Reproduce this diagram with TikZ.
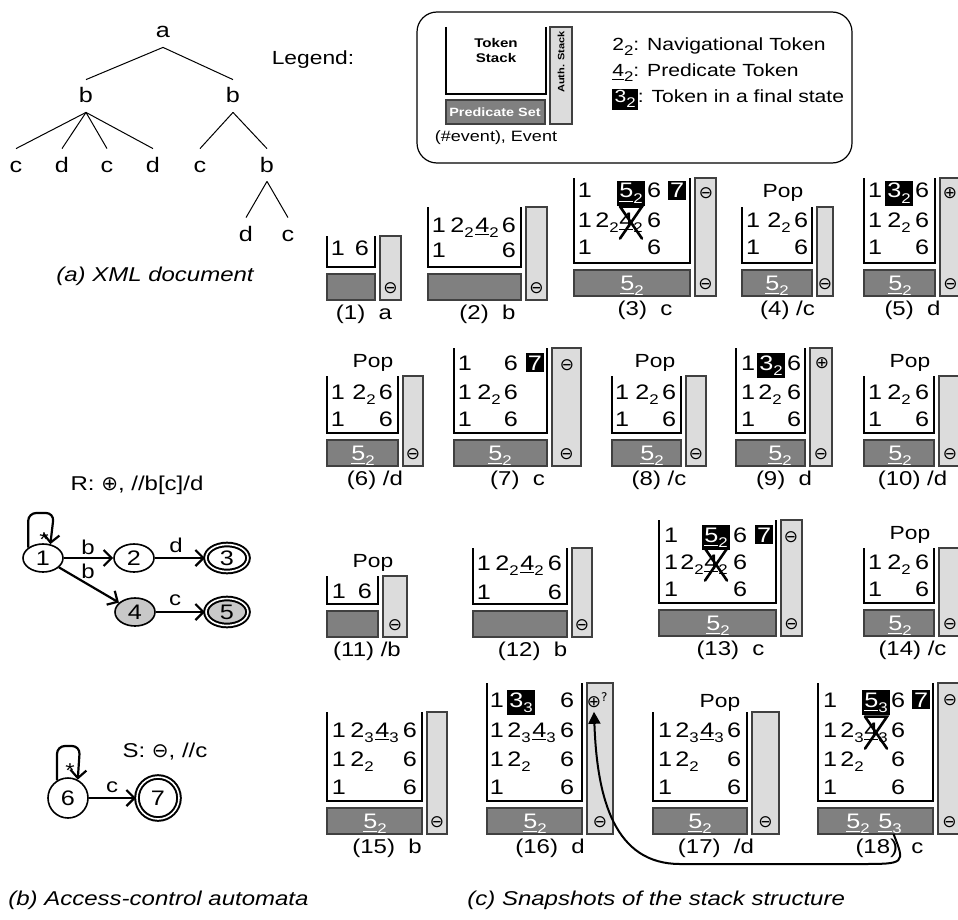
\documentclass[tikz,border=0pt]{standalone}
\usepackage{fontspec}
\setmainfont{Liberation Sans}[FakeStretch=1.2]
\newfontfamily\symfont{DejaVu Sans}
\usetikzlibrary{arrows.meta,shapes.geometric}
\definecolor{predgray}{HTML}{808080}
\definecolor{authgray}{HTML}{DCDCDC}
\definecolor{stategray}{HTML}{C8C8C8}
\newcommand\sub[1]{\raisebox{-0.5ex}{\fontsize{7}{8}\selectfont#1}}
\newcommand\nav[2]{#1\sub{#2}}
\newcommand\prd[2]{\underline{#1}\sub{#2}}
\newcommand\fbx[1]{{\setlength\fboxsep{1.1pt}\colorbox{black}{\textcolor{white}{#1}}}}
\tikzset{
  stk/.style={draw=black, line width=0.6pt},
  pred/.style={draw=black!75, fill=predgray, line width=0.6pt},
  auth/.style={draw=black!75, fill=authgray, line width=0.6pt},
  tok/.style={anchor=base, inner sep=0pt, font=\fontsize{10.5}{12}\selectfont},
  ptok/.style={tok, text=white},
  pop/.style={inner sep=0pt, font=\fontsize{9.5}{11}\selectfont},
  sym/.style={inner sep=0pt, font=\symfont\fontsize{8.5}{10}\selectfont},
  snapcap/.style={inner sep=0pt, font=\fontsize{10}{12}\selectfont},
  capt/.style={inner sep=0pt, font=\itshape\fontsize{10}{12}\selectfont},
  tree/.style={inner xsep=1pt, inner ysep=4.5pt, text height=7pt, text depth=0pt, font=\fontsize{10.5}{12}\selectfont},
  branch/.style={draw=black, line width=0.5pt},
  state/.style={ellipse, draw=black, line width=0.8pt, inner sep=0pt, minimum width=20pt, minimum height=14pt, font=\fontsize{10.5}{12}\selectfont},
  final/.style={state, double, double distance=0.8pt, line width=1pt, minimum width=21pt, minimum height=13.5pt},
  edge/.style={draw=black, line width=1.1pt, -{Straight Barb[length=4pt,width=8pt]}},
  elab/.style={inner sep=0pt, font=\fontsize{10}{12}\selectfont},
  xmark/.style={draw=black, line width=1.3pt, line cap=round},
  lgd/.style={inner sep=0pt, anchor=base west, font=\fontsize{8.8}{11}\selectfont},
  small/.style={inner sep=0pt, align=center, font=\bfseries\fontsize{6.3}{7.5}\selectfont},
  lbox/.style={draw=black, line width=0.6pt, rounded corners=10pt},
  back/.style={draw=black, line width=1pt, -{Triangle[length=6pt,width=6pt]}},
}
\begin{document}
\begin{tikzpicture}[x=0.5pt, y=-0.5pt]
\useasboundingbox[fill=white] (0,0) rectangle (958,920);

% (a) XML document
\node[tree] (ta) at (163,31) {a};
\node[tree] (tb1) at (86,96) {b};
\node[tree] (tb2) at (233,96) {b};
\node[tree] (tc1) at (16,165) {c};
\node[tree] (td1) at (62,165) {d};
\node[tree] (tc2) at (107,165) {c};
\node[tree] (td2) at (153,165) {d};
\node[tree] (tc3) at (200,165) {c};
\node[tree] (tb3) at (267,165) {b};
\node[tree] (td3) at (246,234) {d};
\node[tree] (tc4) at (288,234) {c};
\foreach \p/\c in {ta/tb1,ta/tb2,tb1/tc1,tb1/td1,tb1/tc2,tb1/td2,tb2/tc3,tb2/tb3,tb3/td3,tb3/tc4}
  \draw[branch] (\p.south) -- (\c.north);
\node[capt] (capa) at (155,276) {(a) XML document};

% (b) automata
\node[elab] (rlab) at (137,485) {R: {\symfont ⊕}, //b[c]/d};
\node[state] (s1) at (43,558) {1};
\node[state] (s2) at (134,558) {2};
\node[final] (s3) at (227,558) {3};
\node[state, fill=stategray] (s4) at (135,612) {4};
\node[final, fill=stategray] (s5) at (227,612) {5};
\draw[edge, rounded corners=4pt] (s1.145) |- (54,513) -- (s1.62);
\node[elab] (st1) at (44,540) {*};
\draw[edge] (s1) -- (s2);
\draw[edge] (s2) -- (s3);
\draw[edge] (s1) -- (s4);
\draw[edge] (s4) -- (s5);
\node[elab] (e12) at (88,547) {b};
\node[elab] (e14) at (88,571) {b};
\node[elab] (e23) at (176,545) {d};
\node[elab] (e45) at (175,600) {c};

\node[elab] (slab) at (165,752) {S: {\symfont ⊖}, //c};
\node[state, circle, minimum size=20pt] (s6) at (68,798) {6};
\node[final, circle, minimum size=21pt] (s7) at (158,798) {7};
\draw[edge, rounded corners=4pt] (s6.122) |- (80,746) -- (s6.62);
\node[elab] (st6) at (70,771) {*};
\draw[edge] (s6) -- (s7);
\node[elab] (e67) at (112,787) {c};
\node[capt, anchor=west] (capb) at (8,900) {(b) Access-control automata};

% legend
\node[elab, font=\fontsize{9.5}{11}\selectfont] (lg) at (313,60) {Legend:};
\draw[lbox] (417,12) rectangle (852,163);
\draw[stk] (446,27) -- (446,94) -- (546,94) -- (546,27);
\draw[pred] (446,100) rectangle (545,124);
\draw[auth] (550,27) rectangle (572,124);
\node[small] (lts) at (496,50) {Token\\Stack};
\node[small, text=white, font=\bfseries\fontsize{6}{7}\selectfont] (lps) at (495,112) {Predicate Set};
\node[small, rotate=90, font=\bfseries\fontsize{4.6}{6}\selectfont] (las) at (561,62) {Auth. Stack};
\node[elab, font=\fontsize{7.5}{9}\selectfont] (lev) at (496,138) {(\#event), Event};
\node[lgd] (l1) at (612,51) {\nav22: Navigational Token};
\node[lgd] (l2) at (612,77) {\prd42: Predicate Token};
\node[lgd] (l3) at (612,103) {\fbx{\nav32}: Token in a final state};

% (c) snapshots: frames
\foreach \n/\L/\R/\T/\B/\A/\ev in {
  1/327/375/236/267/401/{(1)\ \ a},  2/428/521/207/267/547/{(2)\ \ b},
  3/574/690/178/263/716/{(3)\ \ c},  4/742/812/207/263/833/{(4) /c},
  5/864/935/178/263/961/{(5)\ \ d},  6/327/398/376/433/423/{(6) /d},
  7/454/547/348/433/581/{(7)\ \ c},  8/612/681/376/433/706/{(8) /c},
  9/736/805/348/433/832/{(9)\ \ d},  10/864/934/376/433/961/{(10) /d},
  11/327/378/576/604/407/{(11) /b},  12/473/567/548/604/592/{(12)\ \ b},
  13/659/776/520/603/802/{(13)\ \ c},14/864/934/548/603/961/{(14) /c},
  15/327/422/712/801/447/{(15)\ \ b},16/487/582/683/801/613/{(16)\ \ d},
  17/653/747/712/801/779/{(17)\ \ /d},18/818/933/683/801/961/{(18)\ \ c}}
{
  \draw[stk] (\L,\T) -- (\L,\B) -- (\R,\B) -- (\R,\T);
  \draw[pred] (\L,\B+7) rectangle (\R,\B+33);
  \draw[auth] (\R+5,\T) rectangle (\A,\B+33);
  \node[sym] (m\n) at ({(\R+5+\A)/2},\B+21) {⊖};
  \node[snapcap] (c\n) at ({(\L+\A)/2},\B+47) {\ev};
  \coordinate (p\n) at ({(\L+\R)/2},\B+33);
}

% tokens
\foreach \x/\y/\t [count=\i] in {338/255/1,362/255/6}
  \node[tok] (k1-\i) at (\x,\y) {\t};
\foreach \x/\y/\t [count=\i] in {439/232/1,462/232/\nav22,487/232/\prd42,509/232/6,439/257/1,509/257/6}
  \node[tok] (k2-\i) at (\x,\y) {\t};
\foreach \x/\y/\t [count=\i] in {585/198/1,631/198/\fbx{\prd52},654/198/6,677/198/\fbx{7},
    585/227/1,607/227/\nav22,654/227/6,585/254/1,654/254/6}
  \node[tok] (k3-\i) at (\x,\y) {\t};
\node[tok] (x3) at (631,227) {\prd42};
\node[ptok] (q3) at (632,290) {\prd52};
\node[sym] (u3) at (706,193) {⊖};

\node[pop] (pop4) at (783,193) {Pop};
\foreach \x/\y/\t [count=\i] in {753/227/1,779/227/\nav22,801/227/6,753/254/1,801/254/6}
  \node[tok] (k4-\i) at (\x,\y) {\t};
\node[ptok] (q4) at (777,290) {\prd52};

\foreach \x/\y/\t [count=\i] in {875/198/1,899/198/\fbx{\nav32},922/198/6,
    875/227/1,899/227/\nav22,922/227/6,875/254/1,922/254/6}
  \node[tok] (k5-\i) at (\x,\y) {\t};
\node[ptok] (q5) at (900,290) {\prd52};
\node[sym] (u5) at (950,193) {⊕};

\node[pop] (pop6) at (373,363) {Pop};
\foreach \x/\y/\t [count=\i] in {338/399/1,364/399/\nav22,386/399/6,338/426/1,386/426/6}
  \node[tok] (k6-\i) at (\x,\y) {\t};
\node[ptok] (q6) at (363,460) {\prd52};

\foreach \x/\y/\t [count=\i] in {465/370/1,511/370/6,535/370/\fbx{7},
    465/399/1,489/399/\nav22,511/399/6,465/426/1,511/426/6}
  \node[tok] (k7-\i) at (\x,\y) {\t};
\node[ptok] (q7) at (500,460) {\prd52};
\node[sym] (u7) at (567,365) {⊖};

\node[pop] (pop8) at (655,363) {Pop};
\foreach \x/\y/\t [count=\i] in {622/399/1,647/399/\nav22,669/399/6,622/426/1,669/426/6}
  \node[tok] (k8-\i) at (\x,\y) {\t};
\node[ptok] (q8) at (652,460) {\prd52};

\foreach \x/\y/\t [count=\i] in {748/370/1,771/370/\fbx{\nav32},794/370/6,
    748/399/1,770/399/\nav22,794/399/6,748/426/1,794/426/6}
  \node[tok] (k9-\i) at (\x,\y) {\t};
\node[ptok] (q9) at (780,460) {\prd52};
\node[sym] (u9) at (822,363) {⊕};

\node[pop] (pop10) at (910,363) {Pop};
\foreach \x/\y/\t [count=\i] in {875/399/1,899/399/\nav22,922/399/6,875/426/1,922/426/6}
  \node[tok] (k10-\i) at (\x,\y) {\t};
\node[ptok] (q10) at (900,460) {\prd52};

\node[pop] (pop11) at (373,563) {Pop};
\foreach \x/\y/\t [count=\i] in {339/598/1,365/598/6}
  \node[tok] (k11-\i) at (\x,\y) {\t};

\foreach \x/\y/\t [count=\i] in {484/570/1,507/570/\nav22,532/570/\prd42,555/570/6,484/599/1,555/599/6}
  \node[tok] (k12-\i) at (\x,\y) {\t};

\foreach \x/\y/\t [count=\i] in {671/542/1,716/542/\fbx{\prd52},740/542/6,764/542/\fbx{7},
    671/569/1,692/569/\nav22,740/569/6,671/596/1,740/596/6}
  \node[tok] (k13-\i) at (\x,\y) {\t};
\node[tok] (x13) at (716,569) {\prd42};
\node[ptok] (q13) at (718,630) {\prd52};
\node[sym] (u13) at (791,537) {⊖};

\node[pop] (pop14) at (910,535) {Pop};
\foreach \x/\y/\t [count=\i] in {875/569/1,899/569/\nav22,922/569/6,875/596/1,922/596/6}
  \node[tok] (k14-\i) at (\x,\y) {\t};
\node[ptok] (q14) at (900,630) {\prd52};

\foreach \x/\y/\t [count=\i] in {339/737/1,362/737/\nav23,387/737/\prd43,410/737/6,
    339/766/1,362/766/\nav22,410/766/6,339/794/1,410/794/6}
  \node[tok] (k15-\i) at (\x,\y) {\t};
\node[ptok] (q15) at (375,828) {\prd52};

\foreach \x/\y/\t [count=\i] in {497/707/1,521/707/\fbx{\nav33},567/707/6,
    497/737/1,519/737/\nav23,544/737/\prd43,567/737/6,
    497/766/1,519/766/\nav22,567/766/6,497/794/1,567/794/6}
  \node[tok] (k16-\i) at (\x,\y) {\t};
\node[ptok] (q16) at (535,828) {\prd52};
\node[sym] (o16) at (594,700) {⊕\rlap{\fontsize{8}{9}\selectfont\textsuperscript{?}}};

\node[pop] (pop17) at (720,703) {Pop};
\foreach \x/\y/\t [count=\i] in {665/737/1,687/737/\nav23,712/737/\prd43,734/737/6,
    665/766/1,687/766/\nav22,734/766/6,665/794/1,734/794/6}
  \node[tok] (k17-\i) at (\x,\y) {\t};
\node[ptok] (q17) at (700,828) {\prd52};

\foreach \x/\y/\t [count=\i] in {830/707/1,876/707/\fbx{\prd53},898/707/6,921/707/\fbx{7},
    830/737/1,852/737/\nav23,898/737/6,
    830/766/1,852/766/\nav22,898/766/6,830/794/1,898/794/6}
  \node[tok] (k18-\i) at (\x,\y) {\t};
\node[tok] (x18) at (876,737) {\prd43};
\node[ptok] (q18a) at (858,828) {\prd52};
\node[ptok] (q18b) at (890,828) {\prd53};
\node[sym] (u18) at (950,700) {⊖};

% crossed predicate tokens
\foreach \k in {x3,x13,x18} {
  \draw[xmark] ([shift={(-11,-16)}]\k.center) -- ([shift={(11,-16)}]\k.center) -- ([shift={(-11,16)}]\k.center);
  \draw[xmark] ([shift={(-11,-16)}]\k.center) -- ([shift={(11,16)}]\k.center);
}

% back to the authorization of (16)
\draw[back] ([shift={(18,0)}]p18) .. controls +(12,30) and (905,864) .. (860,864)
  -- (680,864) .. controls (615,864) and (597,800) .. ([yshift=-2pt]o16.south);

\node[capt, anchor=west] (capc) at (467,900) {(c) Snapshots of the stack structure};
\end{tikzpicture}
\end{document}
